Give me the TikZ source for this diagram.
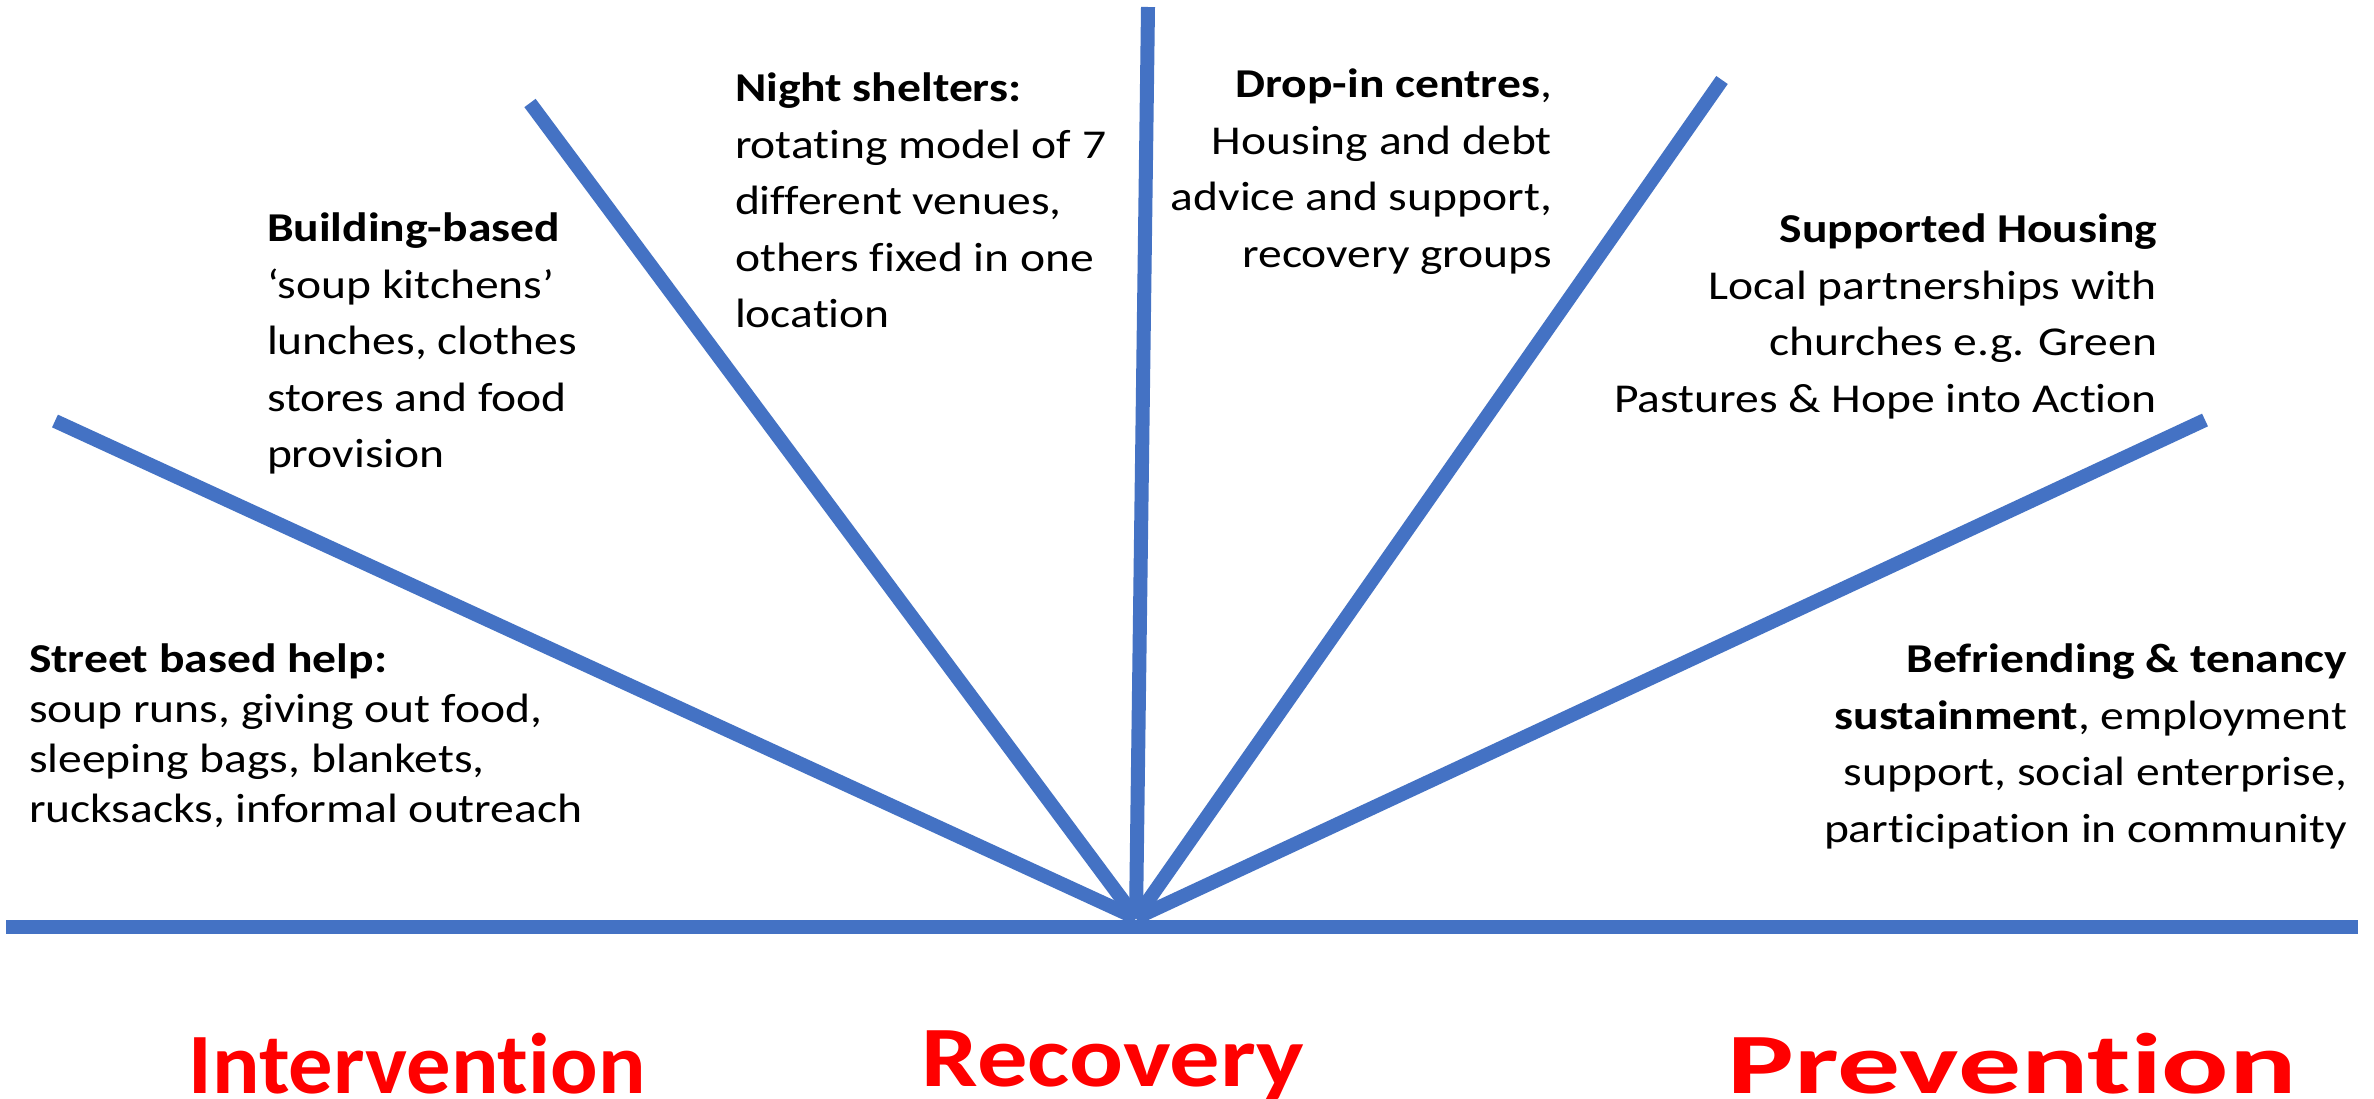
\documentclass[tikz,border=0pt]{standalone}
\usepackage{fontspec}
\setmainfont{Carlito}[Ligatures=NoCommon]
\newfontfamily\bodyfont{Carlito}[FakeStretch=1.16,Ligatures=NoCommon]
\definecolor{rayblue}{HTML}{4472C4}
\definecolor{labelred}{HTML}{FF0000}
\begin{document}
\begin{tikzpicture}[x=1pt,y=-1pt,
  ray/.style={draw=rayblue,line width=14pt},
  bodyA/.style={inner sep=0pt,outer sep=0pt,font=\bodyfont\fontsize{41}{50}\selectfont},
  bodyB/.style={inner sep=0pt,outer sep=0pt,font=\bodyfont\fontsize{41}{56.5}\selectfont},
  phase/.style={inner sep=0pt,outer sep=0pt,anchor=base,text=labelred,font=\bfseries\fontsize{86}{100}\selectfont}]
\useasboundingbox (0,0) rectangle (2374,1098);
\clip (0,0) rectangle (2374,1098);
\fill[white] (0,0) rectangle (2374,1098);
% rays
\coordinate (O) at (1136,918);
\coordinate (r1) at (55,421);
\coordinate (r2) at (530,103);
\coordinate (r3) at (1148,7);
\coordinate (r4) at (1722,80);
\coordinate (r5) at (2205,420);
\coordinate (bl) at (6,927);
\coordinate (br) at (2358,927);
\draw[ray] (r1) -- (O);
\draw[ray] (r2) -- (O);
\draw[ray] (r3) -- (O);
\draw[ray] (r4) -- (O);
\draw[ray] (r5) -- (O);
\draw[ray] (bl) -- (br);
% texts
\node[bodyA,anchor=north west,align=left] (street) at (29,644)
  {\textbf{Street based help:}\\soup runs, giving out food,\\sleeping bags, blankets,\\rucksacks, informal outreach};
\node[bodyB,anchor=north west,align=left] (building) at (267,213)
  {\textbf{Building-based}\\‘soup kitchens’\\lunches, clothes\\stores and food\\provision};
\node[bodyB,anchor=north west,align=left] (night) at (735,73)
  {\textbf{Night shelters:}\\rotating model of 7\\different venues,\\others fixed in one\\location};
\node[bodyB,anchor=north east,align=right] (dropin) at (1552,69)
  {\textbf{Drop-in centres},\\Housing and debt\\advice and support,\\recovery groups};
\node[bodyB,anchor=north east,align=right] (supported) at (2157,214)
  {\textbf{Supported Housing}\\Local partnerships with\\churches e.g. Green\\Pastures \& Hope into Action};
\node[bodyB,anchor=north east,align=right] (befriend) at (2347,644)
  {\textbf{Befriending \& tenancy}\\\textbf{sustainment}, employment\\support, social enterprise,\\participation in community};
\node[phase] (intervention) at (417,1093) {\scalebox{1.03}[1]{Intervention}};
\node[phase] (recovery) at (1113,1086) {\scalebox{1.17}[1]{Recovery}};
\node[phase] (prevention) at (2012,1093) {\scalebox{1.46}[1]{Prevention}};
\end{tikzpicture}
\end{document}
